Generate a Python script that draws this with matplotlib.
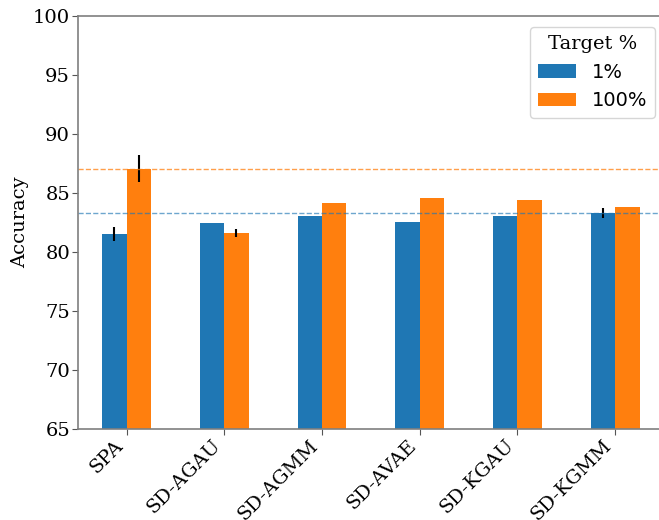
import matplotlib
matplotlib.use("Agg")
import matplotlib.pyplot as plt
import numpy as np

methods = ["SPA", "SD-AGAU", "SD-AGMM", "SD-AVAE", "SD-KGAU", "SD-KGMM"]
acc_1 = [81.5, 82.42, 83.07, 82.56, 83.01, 83.3]
acc_100 = [87.06, 81.6, 84.14, 84.6, 84.43, 83.83]
err_1 = [0.58, 0.0, 0.0, 0.0, 0.0, 0.41]
err_100 = [1.13, 0.34, 0.0, 0.0, 0.0, 0.0]
ref_1 = 83.3
ref_100 = 87.06
series_labels = ["1%", "100%"]
legend_title = "Target %"

blue = "#1f77b4"
orange = "#ff7f0e"

fig = plt.figure(figsize=(6.59, 5.20), dpi=100)
ax = fig.add_axes([0.1179, 0.1756, 0.8897, 0.7936])

x = np.arange(len(methods))
w = 0.25
ax.bar(x - w / 2, acc_1, w, color=blue, label=series_labels[0],
       yerr=err_1, error_kw=dict(ecolor="black", elinewidth=1.5, capsize=0))
ax.bar(x + w / 2, acc_100, w, color=orange, label=series_labels[1],
       yerr=err_100, error_kw=dict(ecolor="black", elinewidth=1.5, capsize=0))

ax.axhline(ref_100, color=orange, linestyle="--", linewidth=1.0, alpha=0.75)
ax.axhline(ref_1, color=blue, linestyle="--", linewidth=1.0, alpha=0.65)

ax.set_xlim(-0.5, len(methods) - 0.5)
ax.set_ylim(65, 100)
ax.set_yticks(np.arange(65, 101, 5))
ax.set_xticks(x)
ax.set_xticklabels(methods, rotation=45, ha="right",
                   family="DejaVu Serif", fontsize=14)
for lbl in ax.get_yticklabels():
    lbl.set_family("DejaVu Serif")
    lbl.set_fontsize(14)
ax.set_ylabel("Accuracy", family="DejaVu Serif", fontsize=14, labelpad=3)

for side in ["left", "bottom", "top", "right"]:
    ax.spines[side].set_color("#7f7f7f")
    ax.spines[side].set_linewidth(1.2)
ax.tick_params(axis="both", color="#555555", length=4, pad=1.5)

leg = ax.legend(loc="upper left", bbox_to_anchor=(0.771, 0.973),
                borderaxespad=0, title=legend_title, fontsize=14,
                title_fontproperties={"family": "DejaVu Serif", "size": 14})

fig.savefig("out.png", dpi=100)
